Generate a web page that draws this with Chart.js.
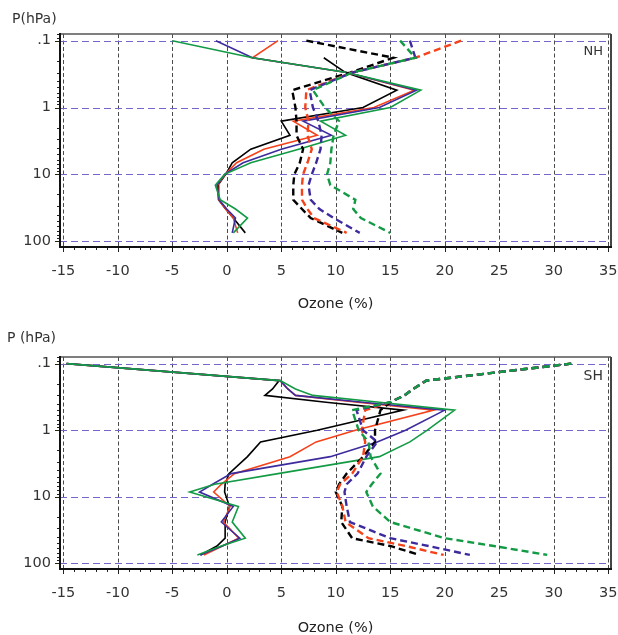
<!DOCTYPE html>
<html><head><meta charset="utf-8">
<script src="https://cdn.jsdelivr.net/npm/chart.js@4.4.0/dist/chart.umd.min.js"></script>
<style>
html,body{margin:0;padding:0;background:#fff;width:618px;height:635px;overflow:hidden}
canvas{position:absolute;left:0;display:block}
</style></head><body>
<canvas id="nh" width="618" height="318" style="top:0;width:618px;height:318px"></canvas>
<canvas id="sh" width="618" height="320" style="top:318px;width:618px;height:320px"></canvas>
<script>
// ---------------- data ----------------
const xTickValues = [-15, -10, -5, 0, 5, 10, 15, 20, 25, 30, 35];
const xTickLabels = ['-15', '-10', '-5', '0', '5', '10', '15', '20', '25', '30', '35'];
const yTickValues = [0.1, 1, 10, 100];
const yTickLabels = ['.1', '1', '10', '100'];

// Northern Hemisphere (pressure in hPa, ozone change in %)
const nhPressure   = [0.1, 0.18, 0.3, 0.55, 1.0, 1.6, 2.6, 4.2, 6.7, 10, 14.5, 24, 33, 45, 75];
const nhSolidBlack = [null, 8.9, 10.9, 15.6, 12.5, 5.0, 5.8, 2.2, 0.5, -0.1, -0.8, -0.75, -0.1, 0.6, 1.7];
const nhSolidRed   = [4.7, 2.35, 11.0, 17.2, 13.5, 6.1, 8.3, 3.4, 0.9, -0.15, -0.85, -0.75, -0.1, 0.6, 1.0];
const nhSolidBlue  = [-1.0, 2.35, 11.0, 17.4, 14.0, 7.0, 9.6, 5.0, 1.5, -0.2, -0.9, -0.7, 0.0, 0.8, 0.5];
const nhSolidGreen = [-5.0, 2.35, 11.0, 17.8, 15.0, 8.6, 10.9, 6.6, 2.2, -0.2, -1.05, -0.6, 0.8, 1.9, 0.6];
const nhDashBlack  = [7.3, 15.3, 11.3, 6.0, 6.3, 6.4, 6.4, 7.0, 6.7, 6.2, 6.1, 6.1, 6.9, 7.7, 10.6];
const nhDashRed    = [21.5, 17.3, 11.5, 7.3, 7.2, 7.5, 7.4, 7.8, 7.4, 7.0, 6.9, 6.9, 7.4, 8.0, 11.0];
const nhDashBlue   = [16.8, 17.3, 11.5, 7.6, 7.9, 8.4, 8.7, 8.6, 8.2, 7.8, 7.5, 7.7, 8.5, 9.8, 12.2];
const nhDashGreen  = [15.9, 17.3, 11.5, 7.9, 9.0, 10.3, 9.8, 9.6, 9.5, 9.2, 9.5, 11.8, 11.6, 12.3, 15.0];

// Southern Hemisphere
const shPressure   = [0.1, 0.18, 0.24, 0.3, 0.38, 0.5, 1.0, 1.5, 2.5, 4.5, 6.5, 8.5, 14, 24, 42, 55, 75];
const shSolidBlack = [-14.7, 4.8, 4.2, 3.5, 9.1, 16.2, 8.3, 3.1, 1.9, 0.2, -0.15, -0.2, 0.25, -0.15, -0.15, -0.9, -2.4];
const shSolidRed   = [-14.7, 4.9, 5.6, 6.3, 12.0, 19.0, 11.8, 8.2, 5.8, 0.7, -0.5, -1.2, 0.3, -0.3, 1.1, -0.4, -2.1];
const shSolidBlue  = [-14.7, 4.9, 5.6, 6.3, 12.5, 20.0, 16.4, 13.8, 9.5, 0.4, -1.3, -2.5, 0.6, -0.5, 1.2, -0.4, -2.45];
const shSolidGreen = [-14.7, 4.9, 6.3, 7.9, 14.0, 20.9, 18.4, 16.8, 14.0, 4.7, -1.1, -3.4, 1.07, 0.5, 1.7, -0.5, -2.7];
const shDashBlack  = [31.6, 18.3, 17.1, 16.3, 15.0, 14.1, 13.6, 13.6, 12.5, 11.0, 10.3, 10.0, 10.6, 10.5, 11.5, 15.0, 17.7];
const shDashRed    = [31.6, 18.3, 17.1, 16.3, 15.0, 12.7, 12.4, 12.7, 12.5, 11.5, 10.4, 10.1, 10.6, 10.9, 13.0, 16.4, 19.9];
const shDashBlue   = [31.6, 18.3, 17.1, 16.3, 15.0, 11.9, 12.5, 13.8, 12.8, 12.0, 11.0, 10.8, 11.0, 11.3, 15.0, 18.5, 22.3];
const shDashGreen  = [31.6, 18.3, 17.1, 16.3, 15.0, 11.5, 12.1, 13.0, 13.2, 14.1, 13.3, 12.8, 13.4, 15.0, 20.0, 24.5, 29.4];

// ---------------- rendering ----------------
const COLORS = { black: '#000000', red: '#f5421b', blue: '#3d2b9e', green: '#139a45' };
const FONT = '"DejaVu Sans", "Liberation Sans", sans-serif';
Chart.defaults.font.family = FONT;

function series(pressure, values, color, dashed, order) {
  return {
    data: pressure.map((p, i) => ({ x: values[i], y: p })).filter(d => d.x !== null),
    borderColor: color, backgroundColor: color,
    borderWidth: dashed ? 2.4 : 1.6,
    borderDash: dashed ? [7, 4] : [],
    order: order,
    showLine: true, pointRadius: 0, pointHoverRadius: 0, tension: 0, fill: false
  };
}

const panelPlugin = {
  id: 'panel',
  beforeDatasetsDraw(chart, args, o) {
    const { ctx, chartArea: a } = chart;
    const xs = chart.scales.x, ys = chart.scales.y;
    ctx.save();
    ctx.lineWidth = 1;
    ctx.strokeStyle = '#4a4a4a';
    ctx.setLineDash([4, 2.5]);
    xTickValues.forEach(v => {
      const px = Math.round(xs.getPixelForValue(v)) + 0.5;
      ctx.beginPath(); ctx.moveTo(px, a.top); ctx.lineTo(px, a.bottom); ctx.stroke();
    });
    ctx.strokeStyle = '#7566cc';
    ctx.setLineDash([7, 4]);
    yTickValues.forEach(v => {
      const py = Math.round(ys.getPixelForValue(v)) + 0.5;
      ctx.beginPath(); ctx.moveTo(a.left, py); ctx.lineTo(a.right, py); ctx.stroke();
    });
    ctx.restore();
  },
  afterDatasetsDraw(chart, args, o) {
    const { ctx, chartArea: a } = chart;
    const xs = chart.scales.x, ys = chart.scales.y;
    ctx.save();
    ctx.setLineDash([]);
    ctx.strokeStyle = '#222';
    ctx.lineWidth = 1;
    for (let v = -15; v <= 35; v++) {
      const len = v % 5 === 0 ? 5 : 3;
      const px = Math.round(xs.getPixelForValue(v)) + 0.5;
      ctx.beginPath(); ctx.moveTo(px, a.bottom); ctx.lineTo(px, a.bottom + len); ctx.stroke();
    }
    [0.01, 0.1, 1, 10, 100].forEach(d => {
      for (let m = 1; m <= 9; m++) {
        const p = d * m;
        if (p < ys.min || p > ys.max) continue;
        const len = m === 1 ? 5 : 3;
        const py = Math.round(ys.getPixelForValue(p)) + 0.5;
        ctx.beginPath(); ctx.moveTo(a.left - len, py); ctx.lineTo(a.left, py); ctx.stroke();
      }
    });
    // frame
    ctx.lineWidth = 1.5; ctx.strokeStyle = '#555';
    ctx.beginPath(); ctx.moveTo(a.left, a.top); ctx.lineTo(a.right, a.top); ctx.stroke();
    ctx.lineWidth = 2; ctx.strokeStyle = '#444';
    ctx.beginPath(); ctx.moveTo(a.right, a.top); ctx.lineTo(a.right, a.bottom); ctx.stroke();
    ctx.strokeStyle = '#111';
    ctx.beginPath(); ctx.moveTo(a.left, a.top - 1); ctx.lineTo(a.left, a.bottom); ctx.lineTo(a.right + 1, a.bottom); ctx.stroke();
    // texts
    ctx.fillStyle = '#333';
    ctx.textBaseline = 'middle';
    ctx.textAlign = 'left';
    ctx.font = '14px ' + FONT;
    ctx.fillText(o.yTitle, o.yTitleX, a.top + o.yTitleDy);
    ctx.textAlign = 'right';
    ctx.font = o.regionSize + 'px ' + FONT;
    ctx.fillText(o.region, a.right - 8, a.top + o.regionDy);
    ctx.restore();
  }
};

function makePanel(id, pressure, sets, cfg) {
  // lower "order" is drawn on top: green dashed on top, black solid at the bottom
  const datasets = [
    series(pressure, sets[0], COLORS.black, false, 7),
    series(pressure, sets[1], COLORS.red, false, 6),
    series(pressure, sets[2], COLORS.blue, false, 5),
    series(pressure, sets[3], COLORS.green, false, 4),
    series(pressure, sets[4], COLORS.black, true, 3),
    series(pressure, sets[5], COLORS.red, true, 2),
    series(pressure, sets[6], COLORS.blue, true, 1),
    series(pressure, sets[7], COLORS.green, true, 0)
  ];
  return new Chart(document.getElementById(id), {
    type: 'scatter',
    data: { datasets },
    plugins: [panelPlugin],
    options: {
      responsive: false, animation: false, devicePixelRatio: 1,
      layout: { padding: { top: cfg.top, right: 7, left: 0, bottom: 0 } },
      plugins: {
        legend: { display: false }, tooltip: { enabled: false },
        panel: cfg.labels
      },
      scales: {
        x: {
          type: 'linear', min: -15.3, max: 35.25,
          afterBuildTicks: s => { s.ticks = xTickValues.map(v => ({ value: v })); },
          afterFit: s => { s.height = cfg.xHeight; s.paddingLeft = 0; s.paddingRight = 0; },
          grid: { display: false, drawTicks: false }, border: { display: false },
          ticks: { autoSkip: false, maxRotation: 0, padding: 16, color: '#333',
                   font: { size: 14.5 }, callback: (v, i) => xTickLabels[i] },
          title: { display: true, text: 'Ozone (%)', color: '#222', font: { size: 14.5 },
                   padding: { top: 0, bottom: cfg.titlePad } }
        },
        y: {
          type: 'logarithmic', reverse: true, min: 0.0795, max: 122, position: 'left',
          afterBuildTicks: s => { s.ticks = yTickValues.map(v => ({ value: v })); },
          afterFit: s => { s.width = 60; s.paddingTop = 0; s.paddingBottom = 0; },
          grid: { display: false, drawTicks: false }, border: { display: false },
          ticks: { autoSkip: false, padding: 9, color: '#333', font: { size: 14.5 },
                   callback: (v, i) => yTickLabels[i] }
        }
      }
    }
  });
}

makePanel('nh', nhPressure,
  [nhSolidBlack, nhSolidRed, nhSolidBlue, nhSolidGreen, nhDashBlack, nhDashRed, nhDashBlue, nhDashGreen],
  { top: 34, xHeight: 71, titlePad: 5,
    labels: { yTitle: 'P(hPa)', yTitleX: 12, yTitleDy: -15, region: 'NH', regionSize: 13, regionDy: 18 } });

makePanel('sh', shPressure,
  [shSolidBlack, shSolidRed, shSolidBlue, shSolidGreen, shDashBlack, shDashRed, shDashBlue, shDashGreen],
  { top: 39, xHeight: 69, titlePad: 1, 
    labels: { yTitle: 'P (hPa)', yTitleX: 7, yTitleDy: -18.5, region: 'SH', regionSize: 14, regionDy: 19.5 } });
</script>
</body></html>
